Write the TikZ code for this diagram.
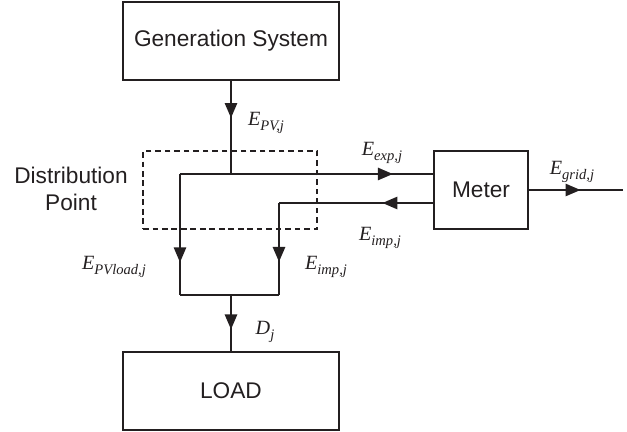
\documentclass[tikz,border=0pt]{standalone}
\usepackage{fontspec}
\setmainfont{Liberation Sans}
\newfontfamily\flowfont{Liberation Serif}
\usepackage{xcolor}
\usetikzlibrary{positioning,arrows.meta,decorations.markings}
\definecolor{DPInk}{HTML}{231F20}
\newcommand{\flow}[2]{{\flowfont\itshape #1\raisebox{-0.45ex}{\fontsize{8.3}{9}\selectfont #2}}}
\tikzset{
  unitbox/.style={draw=DPInk,line width=0.7pt,minimum width=#1,minimum height=1.56cm,inner sep=0pt,font=\fontsize{12.9}{15}\selectfont,text=DPInk},
  wire/.style={DPInk,line width=1pt},
  flowarrow/.style={wire,postaction={decorate},decoration={markings,mark=at position #1 with {\arrow{Triangle[length=8.5pt,width=7pt]}}}},
  flowlabel/.style={font=\fontsize{11.5}{13}\selectfont,text=DPInk,inner sep=0pt}
}

\begin{document}
\begin{tikzpicture}[x=0.02cm,y=-0.02cm]
    \useasboundingbox (0,0) rectangle (627,432);
    % blocks
    \node[unitbox=4.32cm] (gen) at (231,41) {Generation System};
    \node[unitbox=1.88cm] (meter) at (481,190) {Meter};
    \node[unitbox=4.32cm] (load) at (231,391) {LOAD};
    \node[draw=DPInk,dash pattern=on 3.2pt off 2.2pt,line width=0.6pt,minimum width=3.48cm,minimum height=1.56cm,inner sep=0pt] (dist) at (230,190) {};
    \node[align=center,font=\fontsize{12.9}{15.3}\selectfont,text=DPInk] (distname) at (71,189) {Distribution\\Point};
    % corners of the wiring
    \coordinate (split) at (180,174);
    \coordinate (leftend) at (180,295);
    \coordinate (impcorner) at (279,203);
    \coordinate (rightend) at (279,295);
    \coordinate (gridend) at (623,190);
    % flows
    \draw[flowarrow=0.4] (gen.south) -- (gen.south |- split);
    \draw[flowarrow=0.84] (split) -- (split -| meter.west);
    \draw[flowarrow=0.73] (split) -- (leftend);
    \draw[flowarrow=0.33] (impcorner -| meter.west) -- (impcorner);
    \draw[flowarrow=0.64] (impcorner) -- (rightend);
    \draw[wire] (leftend) -- (rightend);
    \draw[flowarrow=0.61] (leftend -| load.north) -- (load.north);
    \draw[flowarrow=0.55] (meter.east) -- (gridend);
    % labels
    \node[flowlabel] (epv) at (266,123) {\flow{E}{PV,j}};
    \node[flowlabel] (eexp) at (382,153) {\flow{E}{exp,j}};
    \node[flowlabel] (egrid) at (572,172) {\flow{E}{grid,j}};
    \node[flowlabel] (eimpout) at (380,238) {\flow{E}{imp,j}};
    \node[flowlabel] (epvload) at (114,267) {\flow{E}{PVload,j}};
    \node[flowlabel] (eimpin) at (326,267) {\flow{E}{imp,j}};
    \node[flowlabel] (dj) at (265,332) {\flow{D}{j}};
\end{tikzpicture}
\end{document}
